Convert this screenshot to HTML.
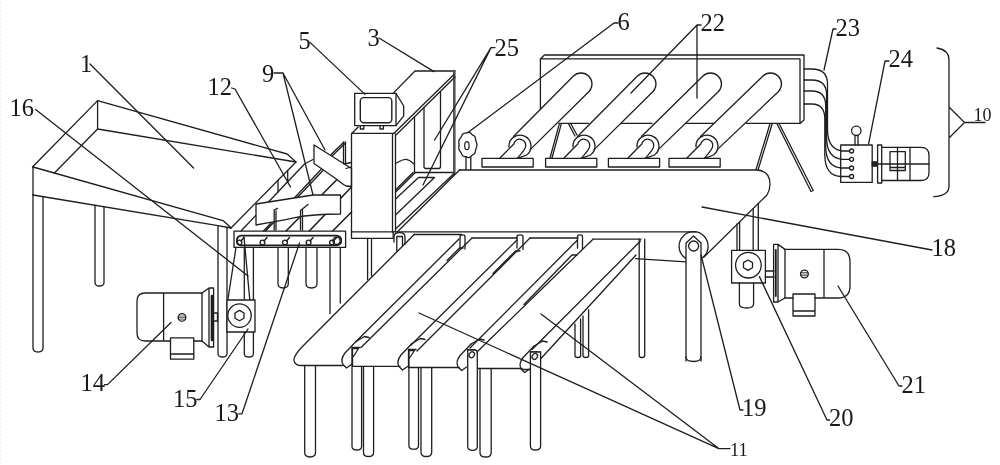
<!DOCTYPE html>
<html><head><meta charset="utf-8"><title>Figure</title>
<style>
html,body{margin:0;padding:0;background:#fff;}
body{width:1000px;height:465px;overflow:hidden;}
svg{display:block;will-change:transform;}
svg path,svg circle,svg rect,svg ellipse{fill:none;stroke:#1e1e1e;stroke-width:1.3;stroke-linejoin:round;stroke-linecap:round;}
svg text{font-family:"Liberation Serif","Noto Serif CJK SC",serif;fill:#1a1a1a;}
</style></head><body>
<svg width="1000" height="465" viewBox="0 0 1000 465">
<rect x="0" y="0" width="1000" height="465" style="fill:#fff;stroke:none"/>
<path d="M0.5,3 V465" style="stroke:#e6e6e6;stroke-width:1;stroke-dasharray:1 3;stroke-linecap:butt"/>
<path d="M32.5,167 L97.6,100.6 L287,154 L296,162 L231,228"/>
<path d="M97.6,100.6 V129 L296,162"/>
<path d="M97.6,129 L54.4,173"/>
<path d="M33,167 V195"/>
<path d="M33,167 L223,220.6 L231,227.8"/>
<path d="M33,195 L218,225.6 L231,228"/>
<path d="M33,195 V348.0 Q33,352 38.0,352 Q43,352 43,348.0 V196.7"/>
<path d="M95,205.3 V282.5 Q95,286 99.5,286 Q104,286 104,282.5 V206.7"/>
<path d="M218,225.6 V353.5 Q218,357 222.5,357 Q227,357 227,353.5 V227.2"/>
<path d="M241,231 L304.5,164 L313,159.5"/>
<path d="M287.7,170.6 V182 M278,180.4 V192"/>
<path d="M263.5,231 L321,169.5 M265.5,231 L323,170.5"/>
<path d="M286,231 L337,179.5" style="stroke-width:1.6"/>
<path d="M309.3,231 L351.5,187" style="stroke-width:1.6"/>
<path d="M332.7,231 L351.5,212" style="stroke-width:1.6"/>
<path d="M314,145 L351.5,168.5 V186.5 L346,186 C342,184 340,182 337,179.5 L322,169 L314,163.5 Z" style="fill:#fff"/>
<path d="M256,204 L313,195 L340.5,195 V214 C325,214 310,214.5 295,217.7 C280,221 268,223 256,225 Z" style="fill:#fff"/>
<path d="M274.2,230 V210 L277.5,208.4 M276,230 V211"/>
<path d="M300.5,230 V210.5 L308,204.5 M302.5,230 V210"/>
<path d="M331,154.5 L344,142 M332.5,155.5 L345,143.5 M343.5,142 V163 M345.5,142 V164.5"/>
<path d="M344,164 L351,162.5 M346,168.5 L351,167"/>
<path d="M234,231.2 H345.6 V247.4 H234 Z"/>
<path d="M241,235.7 H337 A4.9,4.9 0 0 1 337,245.4 H241 A4.9,4.9 0 0 1 241,235.7 Z" style="stroke-width:1.8"/>
<circle cx="239.5" cy="242.6" r="2.4"/>
<path d="M241.0,241 L244.0,237.5" style="stroke-width:1.4"/>
<circle cx="262.5" cy="242.6" r="2.4"/>
<path d="M264.0,241 L267.0,237.5" style="stroke-width:1.4"/>
<circle cx="285" cy="242.6" r="2.4"/>
<path d="M286.5,241 L289.5,237.5" style="stroke-width:1.4"/>
<circle cx="308.6" cy="242.6" r="2.4"/>
<path d="M310.1,241 L313.1,237.5" style="stroke-width:1.4"/>
<circle cx="332" cy="242.6" r="2.4"/>
<path d="M333.5,241 L336.5,237.5" style="stroke-width:1.4"/>
<circle cx="336.5" cy="240.7" r="3.6"/>
<path d="M244.3,247.4 V353.45 Q244.3,357 248.85000000000002,357 Q253.4,357 253.4,353.45 V247.4"/>
<path d="M278,247.4 V283.85 Q278,288 283.15,288 Q288.3,288 288.3,283.85 V247.4"/>
<path d="M306,247.4 V283.5 Q306,288 311.5,288 Q317,288 317,283.5 V247.4"/>
<path d="M330,247.4 V313.5 M340.3,247.4 V303"/>
<path d="M236,247.4 L227.8,300 M244,237 L251,313"/>
<path d="M202,293 H145 Q137,293 137,301 V333 Q137,341 145,341 H170.5 M194,341 H202 V293 M163.6,293 V341"/>
<path d="M202,293 L209,288 V347 L202,341 M209,288 H213.6 V347 H209"/>
<path d="M212,296 V340" style="stroke-width:2.6"/>
<path d="M214,313 H217.5 V321 H214"/>
<path d="M170.5,337.8 H193.8 V359.2 H170.5 Z M170.5,354 H193.8"/>
<circle cx="182" cy="317.4" r="3.8"/>
<path d="M178.6,316 H185.4 M178.4,317.6 H185.6 M178.8,319.2 H185.2" style="stroke-width:0.7"/>
<path d="M227,300 H255 V332 H227 Z" style="fill:#fff"/>
<circle cx="239.5" cy="315.6" r="11.7"/>
<path d="M239.5,310.4 L244,313 V318.2 L239.5,320.8 L235,318.2 V313 Z"/>
<path d="M354.7,93.4 H396 V125.6 H354.7 Z"/>
<rect x="360.3" y="97.6" width="31.5" height="25.2" rx="3.5" style="stroke-width:1.4"/>
<path d="M396,93.4 L403.7,106 V115.8 L396,125.6"/>
<path d="M360.3,125.6 V129 H363.8 V125.6 M380,125.6 V129 H383.4 V125.6"/>
<path d="M358.2,127 L352,133.3 H394 M351.5,133.3 V238.3 H393.2 V231.8 M392.5,133.3 V231.8 M395.5,134 V231.8"/>
<path d="M351.5,231.8 H393"/>
<path d="M393,93.4 L415,71 H455"/>
<path d="M454.3,71 V173" style="stroke:#555;stroke-width:2.6"/>
<path d="M454,74.5 L394,133.3 M455,77 L396.5,134.5"/>
<path d="M414.5,117 V172.5 H453"/>
<path d="M424,108 V166.5 Q424,168.5 426,168.5 H438.5 Q440.5,168.5 440.5,166.5 V92"/>
<path d="M395.5,163.5 C399,162 402,159 406,159.3 C410,159.6 412,162 414.3,164.5"/>
<path d="M413,172.5 L395.5,190 M415,172.8 L395.5,192.3"/>
<path d="M395.5,199 L418.5,177.5 H434.5 L395.5,215"/>
<path d="M454,173.5 L395.5,229 M460,169.5 L397.5,231.8"/>
<path d="M367.6,238.3 V279.5 M371.5,238.3 V276"/>
<path d="M394,242 V237 Q394,232.7 399.5,232.7 Q405,232.7 405,237 V244 M396.8,251 V236.5 H402.5 V246"/>
<path d="M477.0,144.9 L476.8,146.2 L476.4,147.5 L476.0,148.6 L475.7,149.8 L475.5,151.1 L475.2,152.4 L474.6,153.5 L473.8,154.2 L472.9,154.7 L472.0,155.3 L471.3,156.0 L470.5,156.8 L469.6,157.4 L468.7,157.6 L467.7,157.3 L466.8,156.9 L465.9,156.6 L464.9,156.6 L464.0,156.5 L463.0,156.0 L462.3,155.1 L461.7,154.0 L461.2,152.9 L460.6,152.0 L459.9,151.1 L459.2,150.1 L458.9,148.9 L458.8,147.5 L458.9,146.2 L459.0,144.9 L458.9,143.6 L458.8,142.3 L458.9,140.9 L459.2,139.7 L459.9,138.7 L460.6,137.8 L461.2,136.9 L461.7,135.8 L462.3,134.7 L463.0,133.8 L464.0,133.3 L464.9,133.2 L465.9,133.2 L466.8,132.9 L467.7,132.5 L468.7,132.2 L469.6,132.4 L470.5,133.0 L471.3,133.8 L472.0,134.5 L472.9,135.1 L473.8,135.6 L474.6,136.3 L475.2,137.4 L475.5,138.7 L475.7,140.0 L476.0,141.2 L476.4,142.3 L476.8,143.6 Z"/>
<ellipse cx="466.9" cy="145.7" rx="2.2" ry="4" style="stroke-width:1.2"/>
<path d="M466,157.3 V169.5 M470.8,157.3 V169.5"/>
<path d="M460,170 H757 Q770,171 770,184 Q770,190 767,195 L704,257"/>
<path d="M393,231.8 H696"/>
<path d="M635.6,258.6 L686,261.8"/>
<path d="M540.4,108.5 V59 L544.4,55 H804 V120 L800,123.4 M540.4,58.8 H800 V123.4"/>
<path d="M513.5,136.5 L573.22,76.22 A11,11 0 0 1 588.78,91.78 L530.2,149.6"/>
<path d="M509,147 A11,11 0 1 1 526.5,155 L519,157.8"/>
<path d="M500,158 L513.8,144 A5.7,5.7 0 0 1 525.6,146.5 C525.3,149.5 521,154 517.5,158"/>
<path d="M577.5,136.5 L637.22,76.22 A11,11 0 0 1 652.78,91.78 L594.2,149.6"/>
<path d="M573,147 A11,11 0 1 1 590.5,155 L583,157.8"/>
<path d="M564,158 L577.8,144 A5.7,5.7 0 0 1 589.6,146.5 C589.3,149.5 585,154 581.5,158"/>
<path d="M641.5,136.5 L702.72,76.22 A11,11 0 0 1 718.28,91.78 L658.2,149.6"/>
<path d="M637,147 A11,11 0 1 1 654.5,155 L647,157.8"/>
<path d="M628,158 L641.8,144 A5.7,5.7 0 0 1 653.6,146.5 C653.3,149.5 649,154 645.5,158"/>
<path d="M700.5,136.5 L762.72,76.22 A11,11 0 0 1 778.28,91.78 L717.2,149.6"/>
<path d="M696,147 A11,11 0 1 1 713.5,155 L706,157.8"/>
<path d="M687,158 L700.8,144 A5.7,5.7 0 0 1 712.6,146.5 C712.3,149.5 708,154 704.5,158"/>
<path d="M559,123.4 H588.5 M621,123.4 H652 M686.5,123.4 H714 M746,123.4 H800"/>
<path d="M482,158.3 H533.2 V167 H482 Z"/>
<path d="M545.6,158.3 H596.8000000000001 V167 H545.6 Z"/>
<path d="M608.4,158.3 H659.6 V167 H608.4 Z"/>
<path d="M669,158.3 H720.2 V167 H669 Z"/>
<path d="M559.3,123.8 L550,158 M561.3,123.8 L552,158 M568.5,123.8 L575,136 M570.8,123.8 L577,135"/>
<path d="M770,123.8 L756,169.5 M772.2,123.8 L758.2,169.5 M777,123.8 L811,191.5 M779.2,123.8 L813.2,190.5 L811,191.5"/>
<path d="M804,69 H812 Q827.5,69 827.5,84 V129 Q827.5,151 844.5,151 H849.5"/>
<path d="M804,80 H812 Q826.6,80 826.6,95 V137.3 Q826.6,159.3 843.6,159.3 H849.5"/>
<path d="M804,91 H812 Q825.7,91 825.7,106 V146 Q825.7,168 842.7,168 H849.5"/>
<path d="M804,104 H812 Q824.8,104 824.8,119 V154.5 Q824.8,176.5 841.8,176.5 H849.5"/>
<path d="M840.7,145 H872.2 V182.4 H840.7 Z" style="fill:#fff"/>
<path d="M840.7,151 H849.5"/>
<circle cx="851.6" cy="151" r="2"/>
<path d="M840.7,159.3 H849.5"/>
<circle cx="851.6" cy="159.3" r="2"/>
<path d="M840.7,168 H849.5"/>
<circle cx="851.6" cy="168" r="2"/>
<path d="M840.7,176.5 H849.5"/>
<circle cx="851.6" cy="176.5" r="2"/>
<circle cx="856.3" cy="130.8" r="4.7"/>
<path d="M855,135.5 V145 M858,135.5 V145"/>
<rect x="872.2" y="161.8" width="4.6" height="4.4" style="fill:#222"/>
<path d="M877.6,145 H881.7 V183 H877.6 Z"/>
<path d="M881.7,147.3 H921 Q929,147.3 929,155.3 V172.5 Q929,180.5 921,180.5 H881.7"/>
<path d="M897.5,147.3 V180.5 M910,147.3 V180.5 M877,164 H929"/>
<path d="M890,151.6 H905.3 V170.5 H890 Z M890,167.5 H905.3"/>
<path d="M937,48 Q949,50 949,60 V107 L964.5,122.5 L949,138 V186 Q949,196 933.7,196.6 M949,107 V138 M964.5,122.5 H985"/>
<circle cx="693.6" cy="246.2" r="14.5"/>
<path d="M686,361 V243 L693.6,236 L701,243 V361" style="fill:#fff"/>
<path d="M686,357 Q686,361.5 693.5,361.5 Q701,361.5 701,357"/>
<circle cx="693.6" cy="246" r="5"/>
<path d="M731.6,250.4 H765.4 V283 H731.6 Z"/>
<circle cx="748.4" cy="265.2" r="12.8"/>
<path d="M748,260 L752.5,262.6 V267.8 L748,270.4 L743.5,267.8 V262.6 Z"/>
<path d="M737,224 V250.4 M739.6,222 V250.4 M753.2,209 V250.4 M758.3,204 V250.4"/>
<path d="M739.4,283 V304 Q739.4,308 746.5,308 Q753.6,308 753.6,304 V283"/>
<path d="M765.4,271 H774 M765.4,277 H774"/>
<path d="M773.6,244.4 H778 V302 H773.6 Z M778,244.4 L785,249.4 V298 L778,302"/>
<path d="M785,249.4 H838 Q850,249.4 850,261.4 V286 Q850,298 838,298 H815 M793,298 H785 M824,249.4 V298"/>
<path d="M793,294 H815 V316 H793 Z M793,311 H815"/>
<circle cx="804.4" cy="274" r="3.9"/>
<path d="M801,272.5 H807.8 M800.8,274.1 H808 M801.2,275.7 H807.6" style="stroke-width:0.7"/>
<path d="M775.8,250 V296" style="stroke-width:1.8"/>
<path d="M414.2,234.5 L301,348 Q292,358 294.5,362 Q296,365.5 301,365.5 H343"/>
<path d="M414,234.5 H461.5"/>
<path d="M459,239 L356,341.5 M472,238 L361,347.5"/>
<path d="M517,240 L410.5,345.5 M530,238 L417,351"/>
<path d="M577,240.5 L470,348 M593,239.2 L477,352"/>
<path d="M640.5,241 L532,349.5 M636,255 L540.5,359"/>
<path d="M460,248 V236.5 Q460,234.8 462.5,234.8 Q465,234.8 465,236.5 V249.0"/>
<path d="M517,248 V236.5 Q517,234.8 520.0,234.8 Q523,234.8 523,236.5 V249.6"/>
<path d="M577.5,248 V236.5 Q577.5,234.8 580.0,234.8 Q582.5,234.8 582.5,236.5 V249.0"/>
<path d="M472,238 H517 M530,238 H578 M593,239.2 H641"/>
<path d="M459.5,248 L447,260.5 M515.5,251 L493,273.5 M572,255 L524,304.5 M459.5,248 H463 M515.5,251 H520 M572,255 H577"/>
<path d="M356.0,341.5 L345.0,353.0 Q340.0,359.5 343.0,364.5 L346.5,368.0 L351.5,364.5"/>
<path d="M356.0,341.5 L364.5,336.5 L369.0,337.5"/>
<path d="M352.5,347.5 H360.0"/>
<path d="M352.5,366.3 H400.0"/>
<path d="M412.0,343.5 L401.0,355.0 Q396.0,361.5 399.0,366.5 L402.5,370.0 L407.5,366.5"/>
<path d="M412.0,343.5 L420.5,338.5 L425.0,339.5"/>
<path d="M408.5,349.5 H416.0"/>
<path d="M408.5,367.5 H459.1"/>
<path d="M471.1,344 L460.1,355.5 Q455.1,362 458.1,367 L461.6,370.5 L466.6,367"/>
<path d="M471.1,344 L479.6,339 L484.1,340"/>
<path d="M467.6,350 H475.1"/>
<path d="M467.6,368.5 H522.1"/>
<path d="M534.1,346 L523.1,357.5 Q518.1,364 521.1,369 L524.6,372.5 L529.6,369"/>
<path d="M534.1,346 L542.6,341 L547.1,342"/>
<path d="M530.6,352 H538.1"/>
<path d="M522.6,369.5 H530.6"/>
<path d="M352.5,347.5 V366 M353.5,348.5 L358.5,348.5 L353.5,356.5"/>
<path d="M408.5,349.5 V367 M409.5,350.5 L414.5,350.5 L409.5,358"/>
<path d="M304.7,365.5 V452.6 Q304.7,457 310.1,457 Q315.5,457 315.5,452.6 V365.5"/>
<path d="M352,347.5 V446.2 Q352,450 356.8,450 Q361.6,450 361.6,446.2 V366.3"/>
<path d="M363.5,366.3 V452.45 Q363.5,456.5 368.55,456.5 Q373.6,456.5 373.6,452.45 V366.3"/>
<path d="M408.9,350 V445.4 Q408.9,449.2 413.7,449.2 Q418.5,449.2 418.5,445.4 V367.5"/>
<path d="M421,367.5 V452.15 Q421,456.5 426.35,456.5 Q431.7,456.5 431.7,452.15 V367.5"/>
<path d="M467.7,445 V350 H475 Q477.3,350 477.3,353 V445 Z" style="fill:#fff;stroke:none"/>
<path d="M467.7,350 V446.5 Q467.7,450.3 472.5,450.3 Q477.3,450.3 477.3,446.5 V353"/>
<path d="M467.7,350 H475 Q477.3,350 477.3,353"/>
<ellipse cx="471.8" cy="354.8" rx="2.5" ry="3.1" transform="rotate(35 471.8 354.8)"/>
<path d="M480,368.5 V452.4 Q480,457 485.6,457 Q491.2,457 491.2,452.4 V368.5"/>
<path d="M530.4,445 V352 H540.6 V445 Z" style="fill:#fff;stroke:none"/>
<path d="M530.4,352 V445.9 Q530.4,450 535.5,450 Q540.6,450 540.6,445.9 V352"/>
<path d="M530.4,352 H540.6"/>
<ellipse cx="534.8" cy="356.4" rx="2.5" ry="3.1" transform="rotate(35 534.8 356.4)"/>
<path d="M575,324 V355.7 Q575,357.5 577.8,357.5 Q580.6,357.5 580.6,355.7 V319"/>
<path d="M583,316 V355.7 Q583,357.5 585.8,357.5 Q588.6,357.5 588.6,355.7 V310"/>
<path d="M639.2,239.2 V355.75 Q639.2,357.5 641.95,357.5 Q644.7,357.5 644.7,355.75 V239.2"/>
<path d="M90,64 L193.6,168"/>
<path d="M35.6,109.6 L248,276"/>
<path d="M231.6,88 L235,89 L290.5,187"/>
<path d="M274,73 H283 L313,195 M283,73 L325,150"/>
<path d="M310,42.4 L365,94.4"/>
<path d="M379,38 L434,71.6"/>
<path d="M495,47.6 H491 L434.6,140 M491,47.6 L423,185"/>
<path d="M618,23 H614 L468,132.5"/>
<path d="M701,25 H697 L631,93 M697,25 V98"/>
<path d="M836,29 H833 L824,70"/>
<path d="M889,61 H885 L868.6,143.8"/>
<path d="M702,207 L932,250"/>
<path d="M701,255 L740,410 H743"/>
<path d="M759.4,276.6 L827,420 H829.6"/>
<path d="M838,286 L899,386 H902"/>
<path d="M730,448.6 H718.8 L419,313 M718.8,448.6 L541,314"/>
<path d="M104.5,384.6 H107.5 L171,322.5"/>
<path d="M197,399.5 H200 L248,329"/>
<path d="M238.5,413.8 H242 L299.5,243"/>
<g>
<text x="80" y="71.6" font-size="24.5">1</text>
<text x="9.5" y="116.4" font-size="24.5">16</text>
<text x="207.5" y="95" font-size="24.5">12</text>
<text x="262" y="82" font-size="24.5">9</text>
<text x="298.5" y="49" font-size="24.5">5</text>
<text x="367.5" y="45.5" font-size="24.5">3</text>
<text x="494.5" y="56.4" font-size="24.5">25</text>
<text x="617.5" y="30" font-size="24.5">6</text>
<text x="700.5" y="31" font-size="24.5">22</text>
<text x="835.5" y="35.6" font-size="24.5">23</text>
<text x="888.5" y="66.6" font-size="24.5">24</text>
<text x="931.5" y="256" font-size="24.5">18</text>
<text x="742" y="416.4" font-size="24.5">19</text>
<text x="829" y="426" font-size="24.5">20</text>
<text x="901.5" y="393.4" font-size="24.5">21</text>
<text x="80.5" y="391" font-size="24.5">14</text>
<text x="173" y="406.6" font-size="24.5">15</text>
<text x="214.5" y="421" font-size="24.5">13</text>
<text x="730" y="455.6" font-size="18.5">11</text>
<text x="973.5" y="121.3" font-size="18">10</text>
</g>
</svg>
</body></html>
